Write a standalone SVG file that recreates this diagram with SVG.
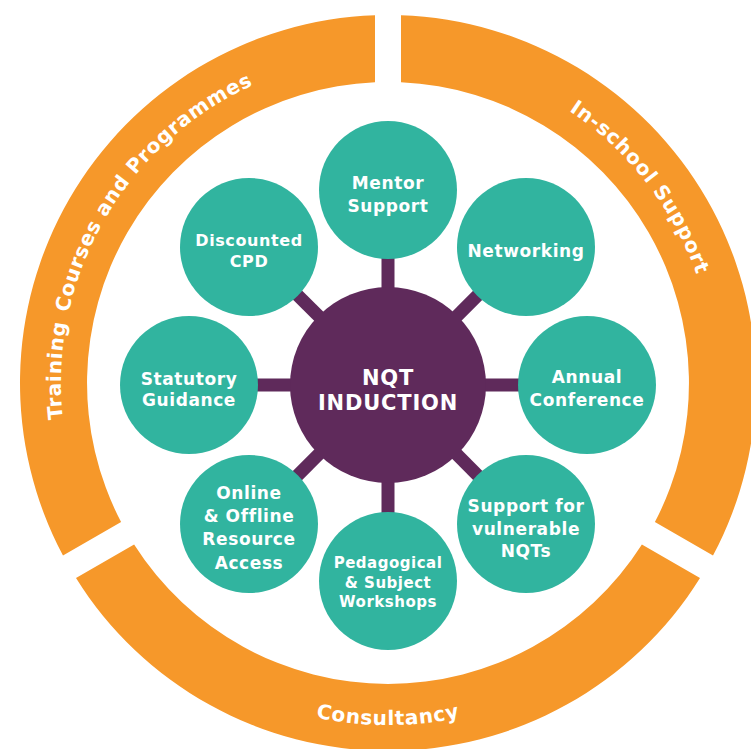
<svg xmlns="http://www.w3.org/2000/svg" width="751" height="749" viewBox="0 0 751 749">
<style>
.ring{fill:#F6982A}
.rtxt{font-family:"DejaVu Sans","Liberation Sans",sans-serif;font-weight:700;font-size:20px;fill:#fff;letter-spacing:0.7px}
.conn{stroke:#5F2A5B;stroke-width:13;fill:none}
.hub{fill:#5F2A5B}
.node{fill:#31B49F}
.ntxt{font-family:"DejaVu Sans","Liberation Sans",sans-serif;font-weight:700;font-size:17px;fill:#fff;text-anchor:middle;letter-spacing:0.6px}
.sm{font-size:15px;letter-spacing:0.5px}
.md{font-size:16px}
.htxt{font-family:"DejaVu Sans","Liberation Sans",sans-serif;font-weight:700;font-size:21px;fill:#fff;text-anchor:middle;letter-spacing:0.8px}
</style>
<defs>
<path id="pTrain" d="M106.2,549 A327,327 0 0 1 385.1,56"/>
<path id="pSchool" d="M345.3,58.8 A327,327 0 0 1 690.1,508.1"/>
<path id="pCons" d="M91.8,554 A342,342 0 0 0 684.2,554"/>
</defs>
<rect width="751" height="749" fill="#fff"/>
<g id="ring-training">
<path class="ring" d="M63,555.6 A368,368 0 0 1 375,15.2 L375,82.3 A301,301 0 0 0 121.1,522.1 Z"/>
<text class="rtxt"><textPath href="#pTrain" startOffset="138">Training</textPath></text>
<text class="rtxt"><textPath href="#pTrain" startOffset="244.8">Courses</textPath></text>
<text class="rtxt"><textPath href="#pTrain" startOffset="347.3">and</textPath></text>
<text class="rtxt"><textPath href="#pTrain" startOffset="399.1">Programmes</textPath></text>
</g>
<g id="ring-inschool">
<path class="ring" d="M401,15.2 A368,368 0 0 1 713,555.6 L654.9,522.1 A301,301 0 0 0 401,82.3 Z"/>
<text class="rtxt"><textPath href="#pSchool" startOffset="234.6">In-school</textPath></text>
<text class="rtxt"><textPath href="#pSchool" startOffset="350.9">Support</textPath></text>
</g>
<g id="ring-consultancy">
<path class="ring" d="M700,578.1 A368,368 0 0 1 76,578.1 L134.1,544.6 A301,301 0 0 0 641.9,544.6 Z"/>
<text class="rtxt"><textPath href="#pCons" startOffset="50%" text-anchor="middle">Consultancy</textPath></text>
</g>
<g id="connectors">
<line class="conn" x1="388" y1="385" x2="388" y2="190"/>
<line class="conn" x1="388" y1="385" x2="526" y2="247"/>
<line class="conn" x1="388" y1="385" x2="587" y2="385"/>
<line class="conn" x1="388" y1="385" x2="526" y2="524"/>
<line class="conn" x1="388" y1="385" x2="388" y2="581"/>
<line class="conn" x1="388" y1="385" x2="249" y2="524"/>
<line class="conn" x1="388" y1="385" x2="189" y2="385"/>
<line class="conn" x1="388" y1="385" x2="249" y2="247"/>
</g>
<g id="hub">
<circle class="hub" cx="388" cy="385" r="98"/>
<text class="htxt" x="388" y="385">NQT</text>
<text class="htxt" x="388" y="410">INDUCTION</text>
</g>
<g id="mentor">
<circle class="node" cx="388" cy="190" r="69"/>
<text class="ntxt" x="388" y="189">Mentor</text>
<text class="ntxt" x="388" y="212">Support</text>
</g>
<g id="networking">
<circle class="node" cx="526" cy="247" r="69"/>
<text class="ntxt" x="526" y="257">Networking</text>
</g>
<g id="annual">
<circle class="node" cx="587" cy="385" r="69"/>
<text class="ntxt" x="587" y="383">Annual</text>
<text class="ntxt" x="587" y="406">Conference</text>
</g>
<g id="vulnerable">
<circle class="node" cx="526" cy="524" r="69"/>
<text class="ntxt" x="526" y="512">Support for</text>
<text class="ntxt" x="526" y="535">vulnerable</text>
<text class="ntxt" x="526" y="557">NQTs</text>
</g>
<g id="pedagogical">
<circle class="node" cx="388" cy="581" r="69"/>
<text class="ntxt sm" x="388" y="568">Pedagogical</text>
<text class="ntxt sm" x="388" y="588">&amp; Subject</text>
<text class="ntxt sm" x="388" y="607">Workshops</text>
</g>
<g id="online">
<circle class="node" cx="249" cy="524" r="69"/>
<text class="ntxt" x="249" y="499">Online</text>
<text class="ntxt" x="249" y="522">&amp; Offline</text>
<text class="ntxt" x="249" y="545">Resource</text>
<text class="ntxt" x="249" y="569">Access</text>
</g>
<g id="statutory">
<circle class="node" cx="189" cy="385" r="69"/>
<text class="ntxt" x="189" y="385">Statutory</text>
<text class="ntxt" x="189" y="406">Guidance</text>
</g>
<g id="discounted">
<circle class="node" cx="249" cy="247" r="69"/>
<text class="ntxt md" x="249" y="246">Discounted</text>
<text class="ntxt md" x="249" y="267">CPD</text>
</g>
</svg>
